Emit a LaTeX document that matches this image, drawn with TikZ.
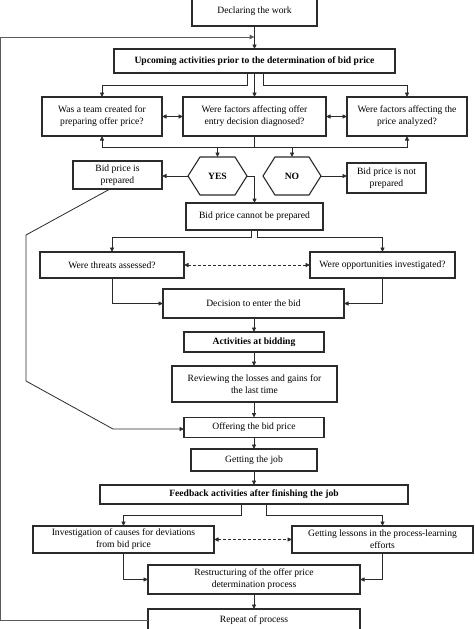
\documentclass[tikz,border=0pt]{standalone}
\usepackage{fontspec}
\setmainfont{Liberation Serif}
\usetikzlibrary{arrows.meta,calc}
\definecolor{ink}{HTML}{2B2B2B}
\definecolor{loopc}{HTML}{5A5A5A}
\tikzset{
  box/.style={draw=ink, line width=1.1pt, outer sep=0pt, inner sep=2pt, align=center,
    font=\fontsize{9.6}{12}\selectfont, text=black},
  boldbox/.style={box, font=\fontsize{9.6}{12}\selectfont\bfseries},
  hexnode/.style={outer sep=0pt, inner sep=0pt, minimum width=59pt, minimum height=38pt,
    font=\fontsize{9.6}{12}\selectfont\bfseries},
  hexline/.style={draw=ink, line width=1.1pt, line join=miter},
  conn/.style={draw=ink, line width=0.8pt},
  arr/.style={conn, -{Triangle[length=4.5pt,width=4pt]}},
  darr/.style={conn, {Triangle[length=4.5pt,width=4pt]}-{Triangle[length=4.5pt,width=4pt]}},
  dasharr/.style={darr, dash pattern=on 3pt off 2pt},
  loopline/.style={draw=loopc, line width=1pt}
}
\begin{document}
\begin{tikzpicture}[x={(1pt,0)}, y={(0,-1pt)}]
\useasboundingbox (0,0) rectangle (474,629);
\clip (0,0) rectangle (474,629);
\fill[white] (0,0) rectangle (474,629);

% nodes
\node[box, minimum width=125pt, minimum height=29pt] (dec) at (254.5,11.5) {Declaring the work};
\node[boldbox, minimum width=281pt, minimum height=24pt] (up) at (254.5,61) {Upcoming activities prior to the determination of bid price};
\node[box, minimum width=120pt, minimum height=39pt] (l1) at (102,116.5) {Was a team created for\\preparing offer price?};
\node[box, minimum width=143pt, minimum height=39pt] (m1) at (254.5,116.5) {Were factors affecting offer\\entry decision diagnosed?};
\node[box, minimum width=120pt, minimum height=39pt] (r1) at (407,116.5) {Were factors affecting the\\price analyzed?};

\node[hexnode] (yes) at (217.5,176) {YES};
\node[hexnode, minimum width=58pt] (no) at (292,176) {NO};
\draw[hexline] (yes.west) -- ([xshift=12pt]yes.north west) -- ([xshift=-12pt]yes.north east) -- (yes.east)
  -- ([xshift=-12pt]yes.south east) -- ([xshift=12pt]yes.south west) -- cycle;
\draw[hexline] (no.west) -- ([xshift=12pt]no.north west) -- ([xshift=-12pt]no.north east) -- (no.east)
  -- ([xshift=-12pt]no.south east) -- ([xshift=12pt]no.south west) -- cycle;

\node[box, minimum width=89pt, minimum height=28pt] (bpp) at (117.5,175) {Bid price is\\prepared};
\node[box, minimum width=79pt, minimum height=30pt] (bpnp) at (386.5,178) {Bid price is not\\prepared};
\node[box, minimum width=137pt, minimum height=27pt] (bcp) at (254.5,216.5) {Bid price cannot be prepared};
\node[box, minimum width=144pt, minimum height=26pt] (thr) at (112,265) {Were threats assessed?};
\node[box, minimum width=145pt, minimum height=26pt] (opp) at (382.5,265) {Were opportunities investigated?};
\node[box, minimum width=181pt, minimum height=29pt] (dec2) at (253.5,303.5) {Decision to enter the bid};
\node[boldbox, minimum width=140pt, minimum height=20pt] (act) at (254,342) {Activities at bidding};
\node[box, minimum width=165pt, minimum height=36pt] (rev) at (254.5,384) {Reviewing the losses and gains for\\the last time};
\node[box, minimum width=140pt, minimum height=20pt] (off) at (254,427.5) {Offering the bid price};
\node[box, minimum width=126pt, minimum height=22pt] (job) at (254,460) {Getting the job};
\node[boldbox, minimum width=308pt, minimum height=19pt] (fb) at (254,494.5) {Feedback activities after finishing the job};
\node[box, minimum width=181pt, minimum height=27pt] (inv) at (123.5,539.5) {Investigation of causes for deviations\\from bid price};
\node[box, minimum width=181pt, minimum height=27pt] (les) at (382.5,539.5) {Getting lessons in the process-learning\\efforts};
\node[box, minimum width=212pt, minimum height=29pt] (res) at (254,579.5) {Restructuring of the offer price\\determination process};
\node[box, minimum width=212pt, minimum height=22pt] (rep) at (254,620) {Repeat of process};

% feedback loop
\coordinate (lx) at (0,0);
\coordinate (join) at (254.5,37);
\draw[loopline, -{Triangle[length=5pt,width=4.5pt]}] (rep.west) -- (rep.west -| lx) -- (lx |- join) -- (join);

% connectors
\draw[arr] (dec.south) -- (up.north);
\draw[arr] ([xshift=-7.5pt]up.south) |- ([yshift=12pt]l1.north) -- (l1.north);
\draw[arr] (up.south) -- (m1.north);
\draw[arr] ([xshift=8.5pt]up.south) |- ([yshift=12pt]r1.north) -- (r1.north);
\draw[darr] (l1) -- (m1);
\draw[darr] (m1) -- (r1);

\draw[conn] (m1.south) -- ++(0,11) coordinate (mj);
\draw[arr] (mj) -| (l1.south);
\draw[arr] (mj) -| (r1.south);
\draw[arr] (mj -| yes.north) -- (yes.north);
\draw[arr] (mj -| no.north) -- (no.north);

\draw[arr] (yes.west) -- (yes.west -| bpp.east);
\draw[arr] (no.east) -- (no.east -| bpnp.west);
\draw[arr] (yes.east) -| (bcp.north);

\draw[arr] ([xshift=-3.5pt]bcp.south) |- ([yshift=15pt]thr.north) -- (thr.north);
\draw[arr] ([xshift=2.5pt]bcp.south) |- ([yshift=15pt]opp.north) -- (opp.north);
\draw[dasharr] (thr) -- (opp);
\draw[arr] (thr.south) |- (dec2.west);
\draw[arr] (opp.south) |- (dec2.east);

\draw[arr] (dec2.south -| act.north) -- (act.north);
\draw[arr] (act.south) -- (rev.north -| act.south);
\draw[arr] (rev.south -| off.north) -- (off.north);
\draw[arr] (off.south) -- (job.north);
\draw[arr] (job.south) -- (fb.north);

% prepared bid -> offering
\coordinate (b1) at (26,235);
\coordinate (b2) at (26,381);
\coordinate (b3) at (113,429);
\draw[arr] ([xshift=-7.5pt]bpp.south) -- (b1) -- (b2) -- (b3) -- (b3 -| off.west);

\draw[arr] ([xshift=-13pt]fb.south) |- ([yshift=11pt]inv.north) -- (inv.north);
\draw[arr] ([xshift=12pt]fb.south) |- ([yshift=11pt]les.north) -- (les.north);
\draw[dasharr] (inv) -- (les);
\draw[arr] (inv.south) |- (res.west);
\draw[arr] (les.south) |- (res.east);
\draw[arr] (res.south) -- (rep.north);
\end{tikzpicture}
\end{document}
